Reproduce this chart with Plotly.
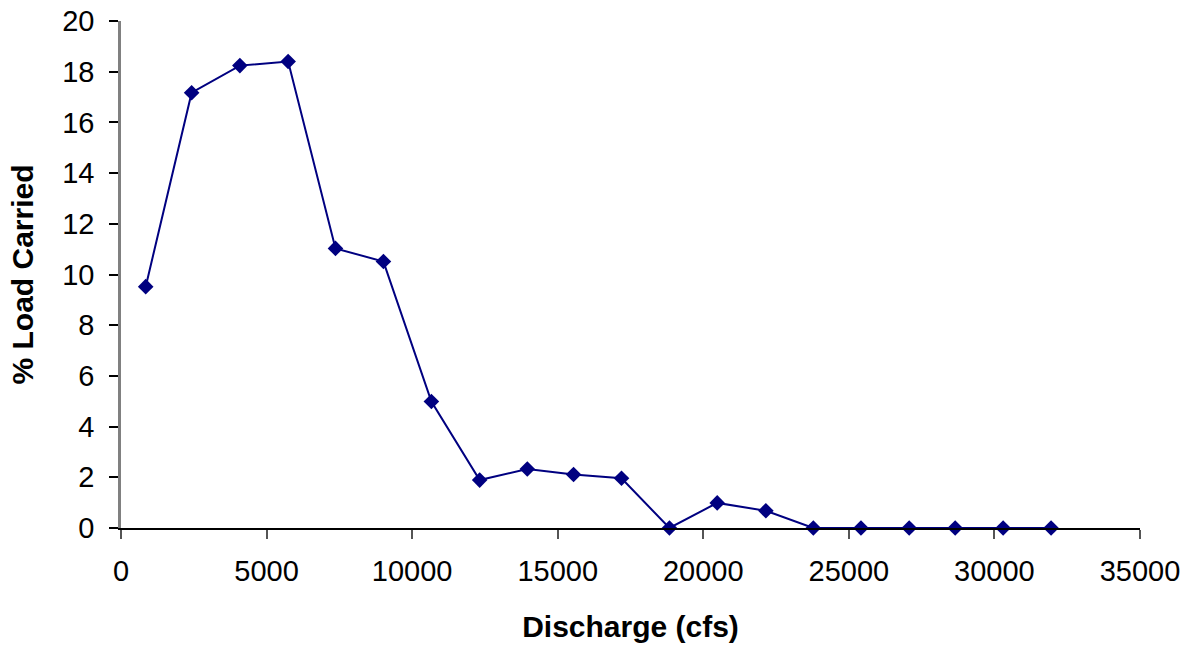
import plotly.graph_objects as go

discharge = [848, 2426, 4083, 5741, 7367, 9014, 10661, 12319, 13955, 15544,
             17191, 18838, 20478, 22150, 23779, 25416, 27073, 28652, 30299, 31946]
load_pct = [9.52, 17.17, 18.24, 18.4, 11.03, 10.51, 4.99, 1.89, 2.33, 2.11,
            1.96, 0.0, 0.99, 0.68, 0.0, 0.0, 0.0, 0.0, 0.0, 0.0]

fig = go.Figure()
fig.add_trace(go.Scatter(
    x=discharge, y=load_pct, mode="lines+markers",
    line=dict(color="#000080", width=2),
    marker=dict(symbol="diamond", size=12, color="#000080"),
    cliponaxis=False, showlegend=False,
))

font = "Liberation Sans, Arial, sans-serif"
fig.update_layout(
    width=1198, height=649,
    margin=dict(l=121, r=58, t=21, b=121, autoexpand=False),
    plot_bgcolor="white", paper_bgcolor="white",
    font=dict(family=font, size=29, color="black"),
)
fig.update_xaxes(
    range=[0, 35000], tick0=0, dtick=5000, tickformat="d",
    showgrid=False, zeroline=False, automargin=False,
    showline=True, linecolor="black", linewidth=1.5,
    ticks="outside", ticklen=9, tickcolor="#555555", tickwidth=1.5,
    tickfont=dict(size=29), ticklabelstandoff=7, ticklabeloverflow="allow",
    title=dict(text="<b>Discharge (cfs)</b>", font=dict(size=30), standoff=30),
)
fig.update_yaxes(
    range=[0, 20], tick0=0, dtick=2,
    showgrid=False, zeroline=False, automargin=False,
    showline=True, linecolor="#808080", linewidth=2.5,
    ticks="outside", ticklen=9, tickcolor="black", tickwidth=1.5,
    tickfont=dict(size=29), ticklabelstandoff=9, ticklabeloverflow="allow",
    title=dict(text="<b>% Load Carried</b>", font=dict(size=30), standoff=20),
)

fig.write_html(
    "out.html",
    config={"displayModeBar": False},
    post_script="document.body.style.margin='0';document.body.style.overflow='hidden';",
)
